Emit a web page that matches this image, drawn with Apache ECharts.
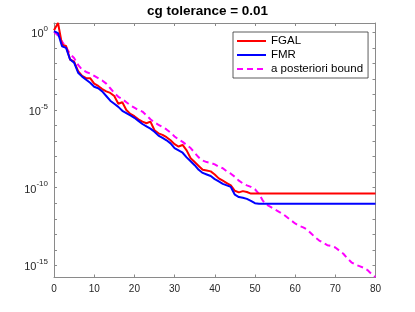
<!DOCTYPE html>
<html>
<head>
<meta charset="utf-8">
<script src="https://cdn.jsdelivr.net/npm/echarts@6/dist/echarts.min.js"></script>
<style>html,body{margin:0;padding:0;background:#fff;}#c{width:415px;height:312px;}</style>
</head>
<body>
<div id="c"></div>
<script>
// iteration index 0..80
var iterations = [];
for (var i = 0; i <= 80; i++) iterations.push(i);

// values, stored as log10 of the plotted quantity
var fgalLog10 = [0.14,0.6,-0.8,-0.88,-1.75,-1.88,-2.5,-2.8,-2.95,-2.95,
  -3.3,-3.45,-3.65,-3.8,-3.9,-4.1,-4.6,-4.5,-5.0,-5.25,
  -5.4,-5.6,-5.75,-5.85,-5.75,-6.3,-6.5,-6.6,-6.75,-6.95,
  -7.2,-7.35,-7.25,-7.6,-8.1,-8.35,-8.6,-8.85,-8.9,-8.95,
  -9.15,-9.4,-9.55,-9.7,-9.85,-10.2,-10.3,-10.22,-10.28,-10.38,
  -10.38,-10.38,-10.38,-10.38,-10.38,-10.38,-10.38,-10.38,-10.38,-10.38,
  -10.38,-10.38,-10.38,-10.38,-10.38,-10.38,-10.38,-10.38,-10.38,-10.38,
  -10.38,-10.38,-10.38,-10.38,-10.38,-10.38,-10.38,-10.38,-10.38,-10.38,-10.38];

var fmrLog10 = [0.08,-0.05,-0.9,-1.0,-1.75,-1.95,-2.6,-2.85,-3.05,-3.25,
  -3.5,-3.6,-3.8,-4.1,-4.4,-4.6,-4.8,-5.05,-5.2,-5.35,
  -5.5,-5.7,-5.9,-6.05,-6.2,-6.4,-6.65,-6.8,-6.95,-7.15,
  -7.45,-7.6,-7.75,-8.05,-8.3,-8.55,-8.85,-9.05,-9.15,-9.25,
  -9.45,-9.6,-9.75,-9.85,-9.95,-10.45,-10.6,-10.65,-10.72,-10.85,
  -11.0,-11.04,-11.04,-11.04,-11.04,-11.04,-11.04,-11.04,-11.04,-11.04,
  -11.04,-11.04,-11.04,-11.04,-11.04,-11.04,-11.04,-11.04,-11.04,-11.04,
  -11.04,-11.04,-11.04,-11.04,-11.04,-11.04,-11.04,-11.04,-11.04,-11.04,-11.04];

var boundLog10 = [0.03,-0.2,-0.6,-0.95,-1.4,-1.65,-2.1,-2.4,-2.55,-2.65,
  -2.8,-2.95,-3.1,-3.3,-3.6,-3.9,-4.15,-4.3,-4.5,-4.7,
  -4.85,-5.0,-5.1,-5.35,-5.6,-5.8,-5.95,-6.1,-6.25,-6.45,
  -6.7,-6.9,-7.05,-7.25,-7.45,-7.75,-8.05,-8.25,-8.35,-8.4,
  -8.5,-8.65,-8.75,-8.95,-9.1,-9.3,-9.55,-9.72,-9.85,-9.95,
  -10.1,-10.4,-10.85,-11.1,-11.25,-11.4,-11.55,-11.7,-11.9,-12.1,
  -12.3,-12.45,-12.55,-12.7,-12.95,-13.2,-13.4,-13.55,-13.7,-13.75,
  -13.85,-14.05,-14.25,-14.55,-14.8,-14.95,-15.05,-15.15,-15.3,-15.55,-15.75];

var xTicks = [0,10,20,30,40,50,60,70,80];
var yLabelExps = [-15,-10,-5,0];
var yTickExps = [-15,-14,-13,-12,-11,-10,-9,-8,-7,-6,-5,-4,-3,-2,-1,0];
var seriesNames = ['FGAL','FMR','a posteriori bound'];
var titleText = 'cg tolerance = 0.01';

function pairs(ys){ return iterations.map(function(x,i){ return [x, ys[i]]; }); }

var axisColor = '#8a8a8a';
var textColor = '#262626';
var font = 'Liberation Sans, Arial, Helvetica, sans-serif';

function yAxisCfg(pos, showLabels){
  return {
    type:'value', position:pos, min:-15.78, max:0.6,
    axisLine:{show:true, onZero:false, lineStyle:{color:axisColor, width:1}},
    axisTick:{show:true, inside:true, length:3, customValues:yTickExps, lineStyle:{color:axisColor}},
    axisLabel:{show:showLabels, customValues:yLabelExps, margin:6, fontFamily:font, color:textColor,
      formatter:function(v){ return '{b|10}{s|' + Math.round(v) + '}'; },
      rich:{ b:{fontSize:11, fontFamily:font, color:textColor, lineHeight:15, verticalAlign:'bottom'},
             s:{fontSize:8, fontFamily:font, color:textColor, lineHeight:9, verticalAlign:'top'} }
    },
    splitLine:{show:false}
  };
}
function xAxisCfg(pos, showLabels){
  return {
    type:'value', position:pos, min:0, max:80, interval:10,
    axisLine:{show:true, onZero:false, lineStyle:{color:axisColor, width:1}},
    axisTick:{show:true, inside:true, length:3, lineStyle:{color:axisColor}},
    axisLabel:{show:showLabels, margin:7, fontSize:10, fontFamily:font, color:textColor},
    splitLine:{show:false}
  };
}

var chart = echarts.init(document.getElementById('c'), null, {renderer:'canvas'});
chart.setOption({
  animation:false,
  backgroundColor:'#fff',
  title:{ text:titleText, left:'center', top:4, padding:[0,0,0,14],
    textStyle:{fontSize:13.5, fontWeight:'bold', fontFamily:font, color:'#000'} },
  grid:{ left:54, right:39.5, top:23, bottom:34.5, containLabel:false },
  xAxis:[ xAxisCfg('bottom', true), xAxisCfg('top', false) ],
  yAxis:[ yAxisCfg('left', true), yAxisCfg('right', false) ],
  legend:{
    orient:'vertical', left:233, top:32,
    padding:[3,5,3,3], itemGap:2, itemWidth:29, itemHeight:12,
    backgroundColor:'#fff', borderColor:'#333', borderWidth:0.8,
    itemStyle:{opacity:0, color:'transparent', borderWidth:0},
    textStyle:{fontSize:11.5, fontFamily:font, color:'#000', lineHeight:12},
    data:seriesNames
  },
  series:[
    { name:seriesNames[0], type:'line', data:pairs(fgalLog10), symbol:'none', z:3,
      lineStyle:{color:'#ff0000', width:2}, itemStyle:{color:'#ff0000'} },
    { name:seriesNames[1], type:'line', data:pairs(fmrLog10), symbol:'none', z:4,
      lineStyle:{color:'#0000ff', width:2}, itemStyle:{color:'#0000ff'} },
    { name:seriesNames[2], type:'line', data:pairs(boundLog10), symbol:'none', z:2,
      lineStyle:{color:'#ff00ff', width:2, type:[6,4]}, itemStyle:{color:'#ff00ff'} }
  ]
});
</script>
</body>
</html>
